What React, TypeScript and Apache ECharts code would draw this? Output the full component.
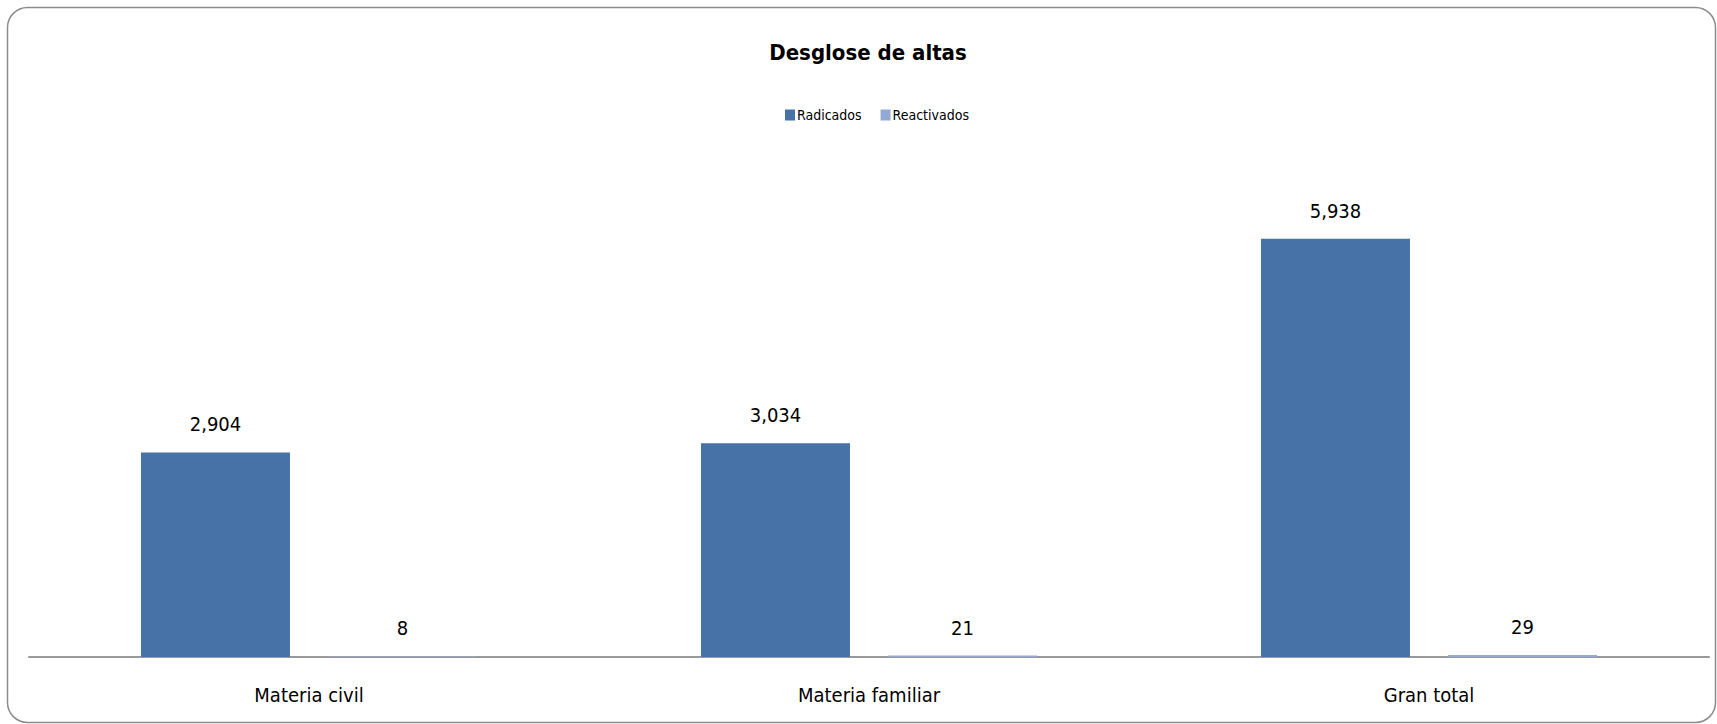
import React, { useEffect, useRef } from "react";
import * as echarts from "echarts";

const categories = ["Materia civil", "Materia familiar", "Gran total"];
const radicados = [2904, 3034, 5938];
const reactivados = [8, 21, 29];
const seriesNames = ["Radicados", "Reactivados"];
const titleText = "Desglose de altas";

const FONT = "'DejaVu Sans Condensed', 'Noto Sans', sans-serif";

export default function App() {
  const ref = useRef<HTMLDivElement>(null);
  useEffect(() => {
    document.body.style.margin = "0";
    const chart = echarts.init(ref.current!, undefined, { renderer: "svg" });
    const fmt = (p: any) => Number(p.value).toLocaleString("en-US");
    chart.setOption({
      animation: false,
      backgroundColor: "#ffffff",
      textStyle: { fontFamily: FONT },
      title: {
        text: titleText,
        left: 868,
        textAlign: "center",
        top: 41,
        padding: 0,
        textStyle: { fontFamily: FONT, fontSize: 22, fontWeight: "bold", color: "#000" },
      },
      legend: {
        data: seriesNames,
        left: 785,
        top: 108,
        padding: 0,
        itemWidth: 10,
        itemHeight: 11,
        itemGap: 19,
        icon: "rect",
        textStyle: { fontFamily: FONT, fontSize: 14, color: "#000", padding: [0, 0, 0, -3] },
      },
      grid: { left: 29, right: 8, top: 164, bottom: 67, containLabel: false },
      xAxis: {
        type: "category",
        data: categories,
        axisLine: { lineStyle: { color: "#999", width: 2 } },
        axisTick: { show: false },
        axisLabel: { fontFamily: FONT, fontSize: 20, color: "#000", margin: 28 },
      },
      yAxis: {
        type: "value",
        min: 0,
        max: 7000,
        show: false,
        splitLine: { show: false },
      },
      graphic: [
        {
          type: "rect",
          shape: { x: 7.5, y: 7.5, width: 1708, height: 715, r: 20 },
          style: { fill: "none", stroke: "#8c8c8c", lineWidth: 1.5 },
          silent: true,
        },
      ],
      series: [
        {
          name: seriesNames[0],
          type: "bar",
          data: radicados,
          barWidth: 149,
          barGap: "25.5%",
          itemStyle: { color: "#4672A7" },
          label: {
            show: true,
            position: "top",
            distance: 18,
            formatter: fmt,
            fontFamily: FONT,
            fontSize: 20,
            color: "#000",
          },
        },
        {
          name: seriesNames[1],
          type: "bar",
          data: reactivados,
          barWidth: 149,
          barGap: "25.5%",
          itemStyle: { color: "#93A9D4" },
          label: {
            show: true,
            position: "top",
            distance: 18,
            formatter: fmt,
            fontFamily: FONT,
            fontSize: 20,
            color: "#000",
          },
        },
      ],
    });
    return () => chart.dispose();
  }, []);
  return <div ref={ref} style={{ width: 1717, height: 724 }} />;
}
